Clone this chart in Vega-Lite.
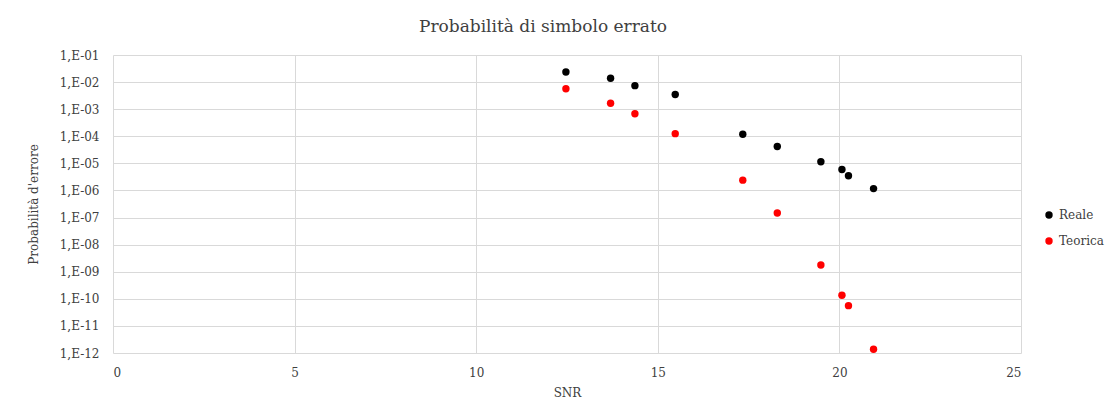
{
  "$schema": "https://vega.github.io/schema/vega-lite/v6.json",
  "autosize": "none",
  "width": 908,
  "height": 298,
  "padding": {"left": 113, "top": 55, "right": 88, "bottom": 61},
  "background": "white",
  "title": {"text": "Probabilità di simbolo errato", "font": "DejaVu Serif", "fontSize": 17, "fontWeight": "normal", "color": "#404040", "offset": 13, "dx": -24},
  "data": {"values": [
    {"snr": 12.47, "p": 2.36e-2, "serie": "Reale"},
    {"snr": 13.70, "p": 1.38e-2, "serie": "Reale"},
    {"snr": 14.37, "p": 7.4e-3, "serie": "Reale"},
    {"snr": 15.48, "p": 3.5e-3, "serie": "Reale"},
    {"snr": 17.34, "p": 1.18e-4, "serie": "Reale"},
    {"snr": 18.29, "p": 4.2e-5, "serie": "Reale"},
    {"snr": 19.49, "p": 1.15e-5, "serie": "Reale"},
    {"snr": 20.07, "p": 5.9e-6, "serie": "Reale"},
    {"snr": 20.25, "p": 3.5e-6, "serie": "Reale"},
    {"snr": 20.94, "p": 1.17e-6, "serie": "Reale"},
    {"snr": 12.47, "p": 5.7e-3, "serie": "Teorica"},
    {"snr": 13.70, "p": 1.65e-3, "serie": "Teorica"},
    {"snr": 14.37, "p": 6.8e-4, "serie": "Teorica"},
    {"snr": 15.48, "p": 1.25e-4, "serie": "Teorica"},
    {"snr": 17.34, "p": 2.4e-6, "serie": "Teorica"},
    {"snr": 18.29, "p": 1.48e-7, "serie": "Teorica"},
    {"snr": 19.49, "p": 1.78e-9, "serie": "Teorica"},
    {"snr": 20.07, "p": 1.35e-10, "serie": "Teorica"},
    {"snr": 20.25, "p": 5.6e-11, "serie": "Teorica"},
    {"snr": 20.94, "p": 1.38e-12, "serie": "Teorica"}
  ]},
  "mark": {"type": "point", "filled": true, "shape": "circle", "size": 55, "opacity": 1},
  "encoding": {
    "x": {"field": "snr", "type": "quantitative",
      "scale": {"domain": [0, 25], "nice": false, "zero": false},
      "axis": {"title": "SNR", "values": [0, 5, 10, 15, 20, 25], "domain": false, "ticks": false, "grid": true, "gridColor": "#d9d9d9", "labelPadding": 14, "titlePadding": 9,
        "labelFont": "DejaVu Serif", "labelFontSize": 12, "labelColor": "#404040", "titleFont": "DejaVu Serif", "titleFontSize": 12, "titleFontWeight": "normal", "titleColor": "#404040"}},
    "y": {"field": "p", "type": "quantitative",
      "scale": {"type": "log", "domain": [1e-12, 0.1], "nice": false},
      "axis": {"title": "Probabilità d'errore", "values": [1e-12, 1e-11, 1e-10, 1e-9, 1e-8, 1e-7, 1e-6, 1e-5, 1e-4, 1e-3, 1e-2, 1e-1],
        "labelExpr": "'1,E-' + (round(-log(datum.value)/LN10) < 10 ? '0' : '') + round(-log(datum.value)/LN10)",
        "domain": false, "ticks": false, "grid": true, "gridColor": "#d9d9d9", "labelPadding": 14, "titlePadding": 19,
        "labelFont": "DejaVu Serif", "labelFontSize": 12, "labelColor": "#404040", "titleFont": "DejaVu Serif", "titleFontSize": 12, "titleFontWeight": "normal", "titleColor": "#404040"}},
    "color": {"field": "serie", "type": "nominal",
      "scale": {"domain": ["Reale", "Teorica"], "range": ["#000000", "#ff0000"]},
      "legend": {"title": null, "orient": "none", "legendX": 930, "legendY": 154, "symbolType": "circle", "symbolSize": 55, "rowPadding": 14,
        "labelFont": "DejaVu Serif", "labelFontSize": 12, "labelColor": "#404040"}}
  },
  "config": {"view": {"stroke": null}}
}
